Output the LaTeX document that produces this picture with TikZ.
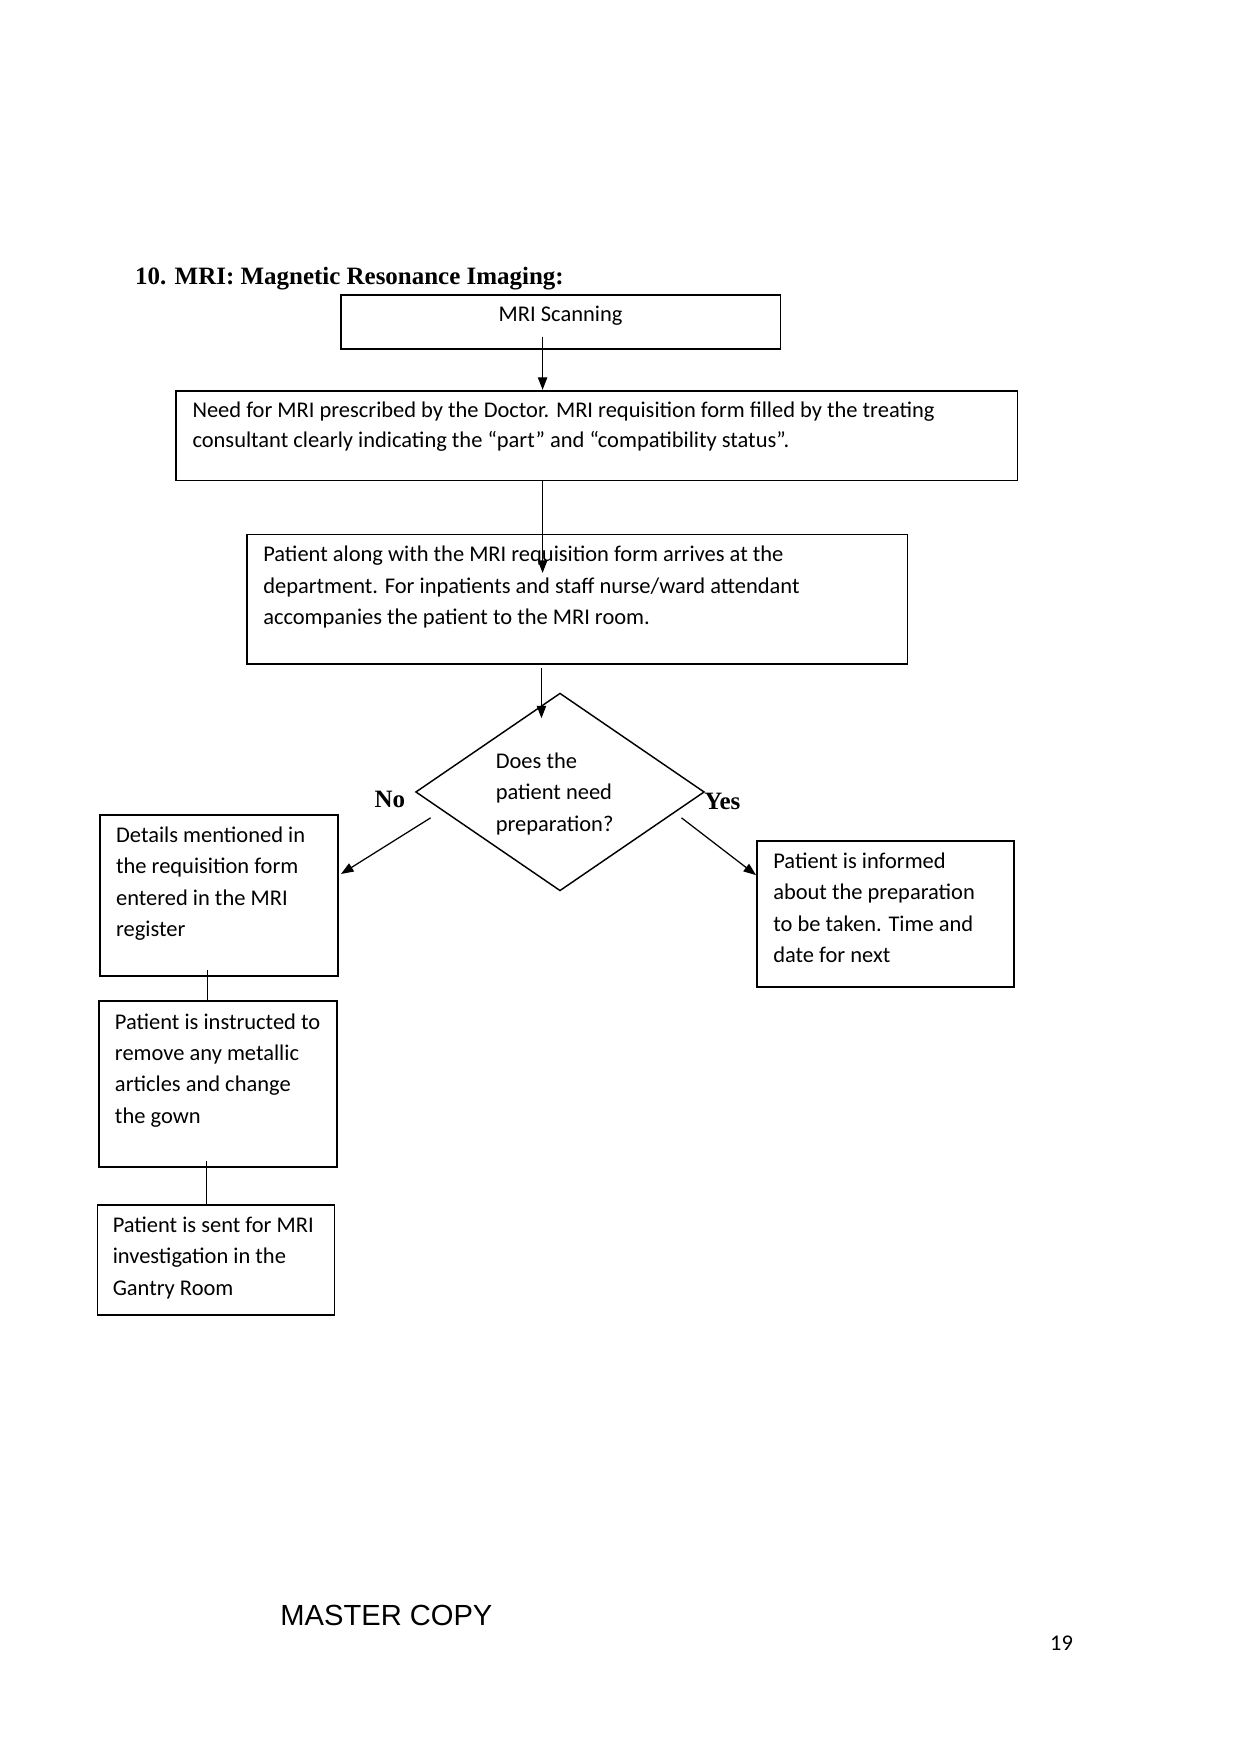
\documentclass[tikz,border=0pt]{standalone}
\usepackage{fontspec}
\setmainfont{Carlito}
\newfontfamily\tnr{Liberation Serif}
\newfontfamily\arialf{Liberation Sans}
\usetikzlibrary{shapes.geometric,arrows.meta,calc}
\begin{document}
\begin{tikzpicture}[x=0.54pt,y=-0.54pt,
  box/.style={draw, line width=0.85pt, inner sep=0pt, anchor=north west},
  txt/.style={inner sep=0pt, anchor=base west, font=\fontsize{10.8}{15.1}\selectfont},
  arr/.style={line width=0.6pt, -{Triangle[length=6pt,width=4.5pt]}},
  ln/.style={line width=0.6pt}]
\useasboundingbox (0,0) rectangle (1111,1568.5);

% title
\node[anchor=base west, inner sep=0pt, font=\tnr\bfseries\fontsize{12}{14}\selectfont] (title) at (120,253) {10. MRI: Magnetic Resonance Imaging:};

% boxes
\node[box, minimum width={391*0.54pt}, minimum height={48*0.54pt}] (b1) at (303,262) {};
\node[box, minimum width={749*0.54pt}, minimum height={80*0.54pt}] (b2) at (156,347) {};
\node[box, minimum width={588*0.54pt}, minimum height={115*0.54pt}] (b3) at (219,475) {};
\node[box, minimum width={212*0.54pt}, minimum height={143*0.54pt}] (b4) at (88,725) {};
\node[box, minimum width={229*0.54pt}, minimum height={130*0.54pt}] (b5) at (673,748) {};
\node[box, minimum width={212*0.54pt}, minimum height={148*0.54pt}] (b6) at (87,890) {};
\node[box, minimum width={211*0.54pt}, minimum height={98*0.54pt}] (b7) at (86,1072) {};
\node[draw, diamond, line width=0.7pt, inner sep=0pt, minimum width={257*0.54pt}, minimum height={176*0.54pt}] (d) at (498.5,705) {};

% texts
\node[txt, anchor=base] (t1) at (499,286) {MRI Scanning};
\node[txt, font=\fontsize{10.8}{14}\selectfont] (t2) at (171,372) {\parbox[t]{420pt}{\raggedright Need for MRI prescribed by the Doctor. MRI requisition form filled by the treating\\consultant clearly indicating the “part” and “compatibility status”.}};
\node[txt] (t3) at (234,500) {\parbox[t]{320pt}{\raggedright Patient along with the MRI requisition form arrives at the\\department. For inpatients and staff nurse/ward attendant\\accompanies the patient to the MRI room.}};
\node[txt] (td) at (441,684) {\parbox[t]{80pt}{\raggedright Does the\\patient need\\preparation?}};
\node[txt] (t4) at (103,750) {\parbox[t]{110pt}{\raggedright Details mentioned in\\the requisition form\\entered in the MRI\\register}};
\node[txt] (t5) at (688,773) {\parbox[t]{115pt}{\raggedright Patient is informed\\about the preparation\\to be taken. Time and\\date for next}};
\node[txt] (t6) at (102,916) {\parbox[t]{110pt}{\raggedright Patient is instructed to\\remove any metallic\\articles and change\\the gown}};
\node[txt] (t7) at (100,1097) {\parbox[t]{110pt}{\raggedright Patient is sent for MRI\\investigation in the\\Gantry Room}};

\node[anchor=base, inner sep=0pt, font=\tnr\bfseries\fontsize{12}{14}\selectfont] (no) at (347,719) {No};
\node[anchor=base, inner sep=0pt, font=\tnr\bfseries\fontsize{12}{14}\selectfont] (yes) at (643,721) {Yes};

\node[anchor=base, inner sep=0pt, font=\arialf\fontsize{14}{16}\selectfont] (mc) at (344,1447) {MASTER COPY};
\node[anchor=base, inner sep=0pt, font=\fontsize{10.8}{13}\selectfont] (pg) at (945,1469) {19};

% connectors
\coordinate (xa) at (483,0);
\draw[arr] ($(b1.south -| xa)+(0,-12)$) -- (b2.north -| xa);
\draw[arr] (b2.south -| xa) -- ($(b3.north -| xa)+(0,35)$);
\draw[arr] ($(b3.south -| xa)+(-1,3)$) -- ($(d.north -| xa)+(-1,23)$);
\draw[arr] ($(d.west)+(14,23)$) -- ($(b4.north east)+(2,53)$);
\draw[arr] ($(d.east)+(-21,23)$) -- ($(b5.north west)+(0,31)$);
\draw[ln] ($(b4.south west)+(97,-6)$) -- ($(b6.north west)+(98,0)$);
\draw[ln] ($(b6.south west)+(97,-6)$) -- ($(b7.north west)+(98,0)$);
\end{tikzpicture}
\end{document}
